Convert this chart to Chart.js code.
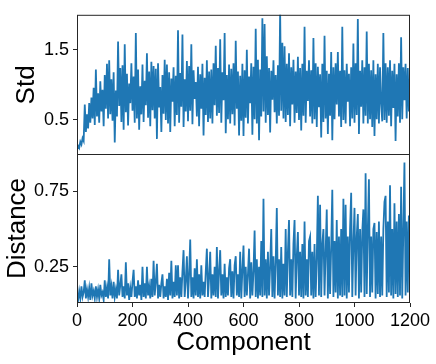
<!DOCTYPE html>
<html lang="en">
<head>
<meta charset="UTF-8">
<title>Std / Distance per component</title>
<style>
  body{margin:0;background:#fff}
  #wrap{position:relative;width:436px;height:364px}
  #wrap canvas{position:absolute;left:0;top:0}
</style>
</head>
<body>
<div id="wrap">
  <canvas id="top" width="436" height="364"></canvas>
  <canvas id="bottom" width="436" height="364"></canvas>
</div>

<script src="https://cdn.jsdelivr.net/npm/chart.js@4.4.0"></script>
<script>
/* ---------- Data (one sample every 4 components) ---------- */
const STEP = 4;

const STD = [
  0.07,0.13,0.10,0.19,0.15,0.24,0.20,0.72,0.33,0.58,
  0.38,0.74,0.46,0.82,0.52,0.96,0.43,1.22,0.55,0.88,
  0.46,1.05,0.62,0.93,0.41,1.14,0.66,1.30,0.52,1.35,
  0.58,1.08,0.49,1.18,0.18,0.92,0.55,1.62,0.70,1.24,
  0.47,1.28,0.36,1.58,0.61,1.16,0.42,1.02,0.74,1.31,
  0.63,1.12,0.46,1.74,0.52,1.22,0.36,0.98,0.58,1.29,
  0.47,1.06,0.71,1.45,0.53,1.19,0.41,1.33,0.64,1.27,
  0.52,1.23,0.23,1.31,0.68,0.97,0.33,1.14,0.59,1.36,
  0.50,1.29,0.45,1.18,0.33,1.09,0.76,1.25,0.41,1.13,
  0.57,1.78,0.46,1.17,0.69,1.72,0.40,1.08,0.62,1.34,
  0.48,1.27,0.63,1.58,0.44,1.21,0.80,1.04,0.55,1.26,
  0.41,1.15,0.66,1.30,0.28,1.10,0.57,1.35,0.47,1.19,
  0.52,1.22,0.45,1.31,0.71,1.56,0.56,1.24,0.60,1.65,
  0.46,1.18,0.78,1.74,0.31,1.14,0.51,1.29,0.45,1.23,
  0.58,1.31,0.42,1.63,0.66,1.19,0.28,1.13,0.49,1.30,
  0.27,1.21,0.53,1.50,0.45,1.12,0.74,1.31,0.29,1.26,
  0.51,1.80,0.45,1.36,0.21,1.22,0.55,1.95,0.62,1.87,
  0.46,1.41,0.57,1.24,0.32,1.20,0.79,1.35,0.61,1.14,
  0.45,1.28,0.56,2.05,0.63,1.60,0.52,1.55,0.47,1.30,
  0.57,1.45,0.41,1.25,0.72,1.36,0.46,1.19,0.60,1.40,
  0.50,1.24,0.35,1.30,0.56,1.83,0.46,1.20,0.77,1.35,
  0.55,1.21,0.45,1.67,0.51,1.31,0.40,1.26,0.68,1.15,
  0.25,1.30,0.47,1.70,0.52,1.20,0.30,1.16,0.56,1.47,
  0.21,1.25,0.51,1.31,0.72,1.47,0.55,1.20,0.40,1.83,
  0.50,1.21,0.45,1.30,0.76,1.16,0.41,1.25,0.52,1.59,
  0.46,1.31,0.57,1.94,0.30,1.20,0.69,1.35,0.45,1.25,
  0.56,1.76,0.45,1.30,0.51,1.21,0.40,1.35,0.27,1.15,
  0.51,1.30,0.45,1.25,0.73,0.48,1.74,0.50,1.31,0.46,
  1.25,0.56,1.35,0.41,1.20,0.67,1.30,0.20,1.15,0.55,
  1.31,0.46,1.68,0.51,1.25,0.78,1.30,0.52,1.24,0.62
];

const DIST = [
  0.06,0.03,0.09,0.04,0.12,0.05,0.08,0.16,0.04,0.10,
  0.05,0.11,0.03,0.14,0.06,0.09,0.04,0.12,0.05,0.10,
  0.04,0.13,0.06,0.08,0.03,0.16,0.05,0.11,0.04,0.30,
  0.06,0.12,0.04,0.15,0.05,0.10,0.04,0.23,0.06,0.13,
  0.20,0.05,0.12,0.04,0.28,0.06,0.14,0.03,0.11,0.05,
  0.15,0.23,0.05,0.12,0.04,0.16,0.06,0.13,0.03,0.25,
  0.05,0.14,0.04,0.25,0.06,0.12,0.04,0.17,0.05,0.29,
  0.06,0.15,0.27,0.04,0.13,0.05,0.14,0.20,0.04,0.12,
  0.05,0.17,0.03,0.21,0.06,0.29,0.04,0.15,0.05,0.26,
  0.06,0.26,0.04,0.18,0.05,0.22,0.36,0.05,0.16,0.32,
  0.04,0.20,0.43,0.05,0.18,0.04,0.24,0.06,0.30,0.05,
  0.20,0.04,0.26,0.06,0.15,0.05,0.22,0.37,0.05,0.18,
  0.35,0.04,0.20,0.06,0.25,0.05,0.38,0.04,0.22,0.36,
  0.06,0.20,0.04,0.27,0.05,0.18,0.06,0.24,0.30,0.05,
  0.22,0.04,0.26,0.32,0.06,0.20,0.05,0.35,0.04,0.23,
  0.39,0.05,0.25,0.06,0.20,0.37,0.04,0.28,0.06,0.22,
  0.49,0.05,0.30,0.04,0.25,0.06,0.42,0.05,0.70,0.06,
  0.30,0.04,0.35,0.06,0.25,0.50,0.05,0.32,0.04,0.28,
  0.64,0.06,0.30,0.05,0.38,0.04,0.27,0.06,0.50,0.05,
  0.35,0.56,0.06,0.30,0.05,0.40,0.56,0.04,0.32,0.48,
  0.06,0.35,0.05,0.40,0.04,0.55,0.06,0.30,0.05,0.42,
  0.45,0.06,0.35,0.04,0.40,0.05,0.30,0.72,0.06,0.66,
  0.05,0.40,0.50,0.06,0.35,0.63,0.04,0.45,0.07,0.38,
  0.76,0.05,0.42,0.08,0.56,0.04,0.45,0.06,0.50,0.05,
  0.70,0.06,0.66,0.04,0.45,0.08,0.50,0.74,0.05,0.40,
  0.64,0.06,0.45,0.60,0.04,0.50,0.08,0.48,0.63,0.05,
  0.87,0.07,0.50,0.83,0.05,0.45,0.08,0.50,0.54,0.04,
  0.48,0.07,0.55,0.05,0.45,0.06,0.50,0.68,0.72,0.05,
  0.55,0.08,0.79,0.06,0.50,0.04,0.67,0.07,0.55,0.05,
  0.60,0.06,0.78,0.04,0.50,0.94,0.06,0.55,0.08,0.59
];

const X_TICKS    = [0, 200, 400, 600, 800, 1000, 1200];
const STD_TICKS  = [0.5, 1.5];
const DIST_TICKS = [0.25, 0.75];

/* ---------- Style ---------- */
const INK  = '#262626';
const BLUE = '#1f77b4';
const FONT = '"Liberation Sans", Arial, sans-serif';

const pts = arr => arr.map((v, i) => ({x: i * STEP, y: v}));

// box around each plot area (matplotlib spines), 1px lines on whole pixels
const frame = {
  id: 'frame',
  afterDraw(c){
    const {ctx, chartArea: a} = c;
    ctx.save();
    ctx.strokeStyle = INK; ctx.lineWidth = 1;
    ctx.strokeRect(a.left + .5, a.top + .5, a.right - a.left - 1, a.bottom - a.top - 1);
    ctx.restore();
  }
};

function yAxis(min, max, ticks, title, titlePad){
  return {
    min, max,
    afterBuildTicks: ax => { ax.ticks = ticks.map(v => ({value: v})); },
    afterFit: ax => { ax.width = 77; },
    grid: {drawOnChartArea: false, drawTicks: true, tickLength: 4, tickColor: INK, color: INK},
    border: {display: false},
    ticks: {color: '#000', padding: 4, font: {family: FONT, size: 18}, callback: v => String(v)},
    title: {display: true, text: title, color: '#000', font: {family: FONT, size: 26},
            padding: {top: titlePad, bottom: 0}}
  };
}

function lineSet(arr){
  return {data: pts(arr), borderColor: BLUE, borderWidth: 1.8, pointRadius: 0, tension: 0, fill: false};
}

const common = {
  responsive: false, animation: false, devicePixelRatio: 1,
  plugins: {legend: {display: false}, tooltip: {enabled: false}}
};

/* ---------- Top panel: Std ---------- */
new Chart(document.getElementById('top'), {
  type: 'line',
  data: {datasets: [lineSet(STD)]},
  options: Object.assign({}, common, {
    layout: {padding: {top: 7, right: 26, bottom: 209, left: 0}},
    scales: {
      x: {type: 'linear', min: 0, max: 1200, display: false},
      y: yAxis(0, 2, STD_TICKS, 'Std', 11.4)
    }
  }),
  plugins: [frame]
});

/* ---------- Bottom panel: Distance ---------- */
new Chart(document.getElementById('bottom'), {
  type: 'line',
  data: {datasets: [lineSet(DIST)]},
  options: Object.assign({}, common, {
    layout: {padding: {top: 154, right: 26, bottom: 0, left: 0}},
    scales: {
      x: {
        type: 'linear', min: 0, max: 1200,
        afterBuildTicks: ax => { ax.ticks = X_TICKS.map(v => ({value: v})); },
        afterFit: ax => { ax.height = 61; },
        grid: {drawOnChartArea: false, drawTicks: true, tickLength: 4, tickColor: INK, color: INK},
        border: {display: false},
        ticks: {color: '#000', padding: 3, maxRotation: 0, autoSkip: false,
                font: {family: FONT, size: 18}, callback: v => String(v)},
        title: {display: true, text: 'Component', color: '#000', font: {family: FONT, size: 26},
                padding: {top: 0, bottom: 6}}
      },
      y: yAxis(0.01, 0.997, DIST_TICKS, 'Distance', 2.1)
    }
  }),
  plugins: [frame]
});
</script>
</body>
</html>
